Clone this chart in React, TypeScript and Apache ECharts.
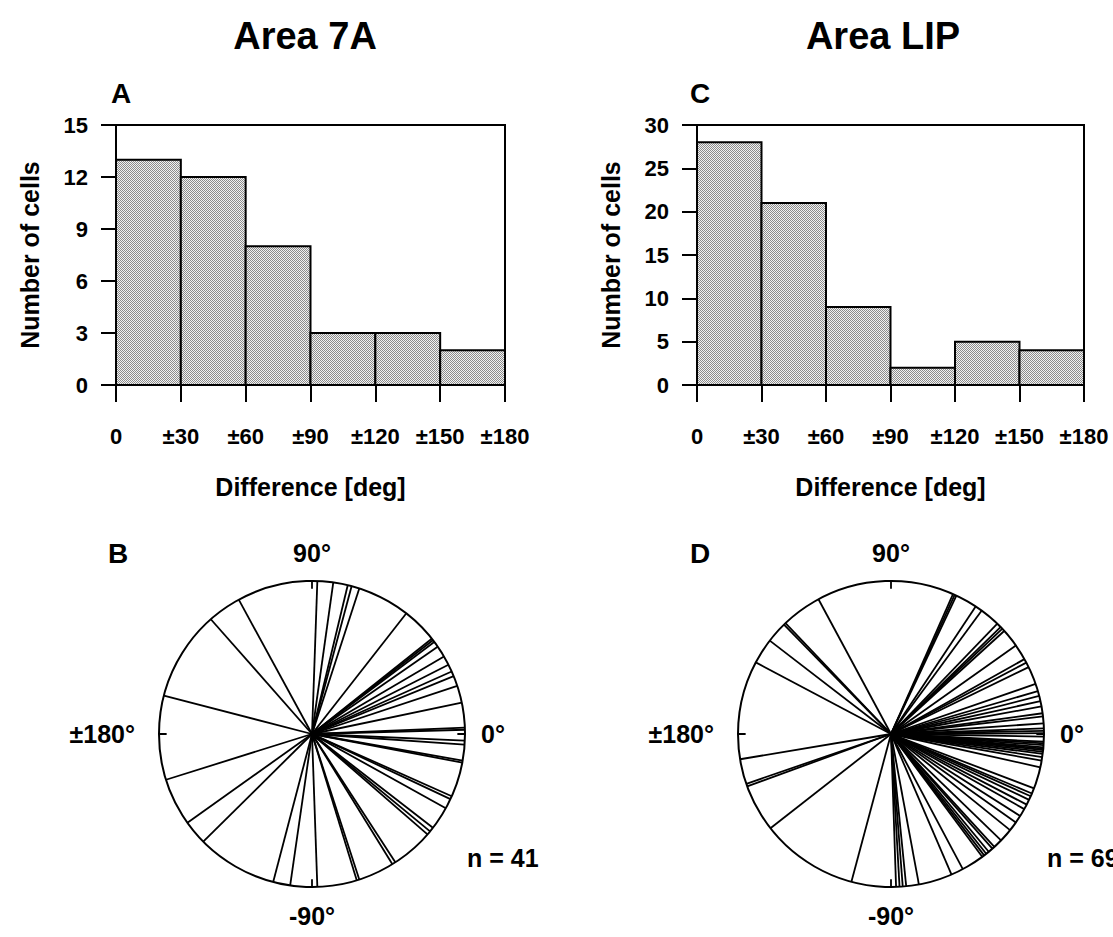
import React, { useEffect, useRef } from 'react';
import * as echarts from 'echarts';

// ---- data ----
const binEdges = [0, 30, 60, 90, 120, 150, 180];
const countsA = [13, 12, 8, 3, 3, 2];
const countsC = [28, 21, 9, 2, 5, 4];
const yMaxA = 15;
const yStepA = 3;
const yMaxC = 30;
const yStepC = 5;
const cardinalAngles = [-180, -90, 0, 90];

// preferred-direction differences (deg) for polar plots
const anglesB = [
  88, 82, 76.5, 75, 72, 52, 38.5, 37.8, 37, 34.8, 30.4, 26.9, 24.1, 22.2, 18.3, 11.8, 2.4, 1.6,
  -2.5, -4, -10, -10.8, -24, -25.2, -29, -37.8, -39.5, -41, -57, -58.3, -72, -73, -88,
  118.6, 131.4, 165.5,
  -162.6, -144.5, -135.3, -104.7, -98.2,
];
const anglesD = [
  66.1, 65.4, 64.7, 56.4, 53.7, 46.1, 44.3, 43.4, 42.3, 35.3, 29.3, 27.8, 25.9, 19.1, 16.3, 14.4,
  12.4, 10.4, 7.8, 6.6, 4.0, 2.1, 1.2,
  0.3, -1.0, -2.9, -3.5, -4.2, -5.0, -5.5, -6.0, -6.7, -7.5, -8.7, -10, -12.6,
  -20.8, -22.9, -24, -25.5, -27.5, -29.4, -32.4, -35.3, -38.9, -44, -47.5, -48.5, -50.3, -51.5,
  -52.5, -53.4, -62, -66.7, -79.5, -84.3, -85.6, -86.8, -88.1,
  118.3, 133.6, 134.4, 142.4, 152.1,
  -170.5, -161, -160, -142, -105,
];

const FONT = '"Liberation Sans", Arial, Helvetica, sans-serif';

function histData(counts: number[]) {
  return counts.map((c, i) => [binEdges[i], binEdges[i + 1], c]);
}

function tickLabel(v: number) {
  return v === 0 ? '0' : '\u00b1' + v;
}

function angleLabel(v: number) {
  if (v === 0) return '0\u00b0';
  if (v === 90) return '90\u00b0';
  if (v === -90) return '-90\u00b0';
  if (v === -180) return '{l|\u00b1180\u00b0}';
  return '';
}

function makeStipple(): any {
  try {
    const c = document.createElement('canvas');
    c.width = 2;
    c.height = 2;
    const ctx = c.getContext('2d');
    if (!ctx) return '#c2c2c2';
    ctx.fillStyle = '#f2f2f2';
    ctx.fillRect(0, 0, 2, 2);
    ctx.fillStyle = '#8c8c8c';
    ctx.fillRect(0, 0, 1, 1);
    ctx.fillRect(1, 1, 1, 1);
    return { image: c.toDataURL(), repeat: 'repeat' };
  } catch (e) {
    return '#c2c2c2';
  }
}

export default function App() {
  const ref = useRef<HTMLDivElement>(null);
  useEffect(() => {
    if (!ref.current) return;
    const chart = echarts.init(ref.current, undefined, { renderer: 'svg' });
    const stipple = makeStipple();

    const renderBar = (params: any, api: any) => {
      const p0 = api.coord([api.value(0), api.value(2)]);
      const p1 = api.coord([api.value(1), 0]);
      return {
        type: 'rect',
        shape: { x: p0[0], y: p0[1], width: p1[0] - p0[0], height: p1[1] - p0[1] },
        style: { fill: stipple, stroke: '#000', lineWidth: 2 },
      };
    };

    const labelStyle = { color: '#000', fontFamily: FONT, fontWeight: 'bold' as const };

    const xAxisCommon = (gridIndex: number) => ({
      type: 'value',
      gridIndex,
      min: 0,
      max: 180,
      interval: 30,
      name: 'Difference [deg]',
      nameLocation: 'middle',
      nameGap: 89,
      nameTextStyle: { ...labelStyle, fontSize: 25 },
      axisLine: { show: true, lineStyle: { color: '#000', width: 2 } },
      axisTick: { show: true, length: 17, lineStyle: { color: '#000', width: 2 } },
      axisLabel: { ...labelStyle, fontSize: 22, margin: 40, formatter: tickLabel },
      splitLine: { show: false },
    });
    const yAxisCommon = (gridIndex: number, max: number, interval: number) => ({
      type: 'value',
      gridIndex,
      min: 0,
      max,
      interval,
      name: 'Number of cells',
      nameLocation: 'middle',
      nameGap: 74,
      nameTextStyle: { ...labelStyle, fontSize: 25 },
      axisLine: { show: true, lineStyle: { color: '#000', width: 2 } },
      axisTick: { show: true, length: 15, lineStyle: { color: '#000', width: 2 } },
      axisLabel: { ...labelStyle, fontSize: 22, margin: 28 },
      splitLine: { show: false },
    });

    const angleAxisCommon = (polarIndex: number) => ({
      polarIndex,
      type: 'value',
      min: -180,
      max: 180,
      interval: 90,
      startAngle: 180,
      clockwise: false,
      axisLine: { show: true, lineStyle: { color: '#000', width: 2 } },
      axisTick: { show: false },
      axisLabel: {
        ...labelStyle,
        fontSize: 25,
        margin: 16,
        formatter: angleLabel,
        rich: { l: { ...labelStyle, fontSize: 25, padding: [0, 8, 0, 0] } },
      },
      splitLine: { show: false },
    });
    const radiusAxisCommon = (polarIndex: number) => ({
      polarIndex,
      type: 'value',
      min: 0,
      max: 1,
      axisLine: { show: false },
      axisTick: { show: false },
      axisLabel: { show: false },
      splitLine: { show: false },
    });

    const spokes = (angles: number[], polarIndex: number) =>
      angles.map((a) => ({
        type: 'line',
        coordinateSystem: 'polar',
        polarIndex,
        data: [
          [0, a],
          [1, a],
        ],
        symbol: 'none',
        silent: true,
        lineStyle: { color: '#000', width: 1.8 },
      }));
    const ticks = (polarIndex: number) =>
      cardinalAngles.map((a) => ({
        type: 'line',
        coordinateSystem: 'polar',
        polarIndex,
        clip: false,
        data: [
          [0.95, a],
          [1.05, a],
        ],
        symbol: 'none',
        silent: true,
        lineStyle: { color: '#000', width: 1.8 },
      }));

    const textEl = (text: string, x: number, y: number, size: number, align = 'left') => ({
      type: 'text',
      x,
      y,
      style: {
        text,
        fill: '#000',
        font: `bold ${size}px ${FONT}`,
        textAlign: align,
        textVerticalAlign: 'middle',
      },
    });

    chart.setOption({
      animation: false,
      backgroundColor: '#fff',
      grid: [
        { left: 116, top: 125, width: 389, height: 260, show: true, borderColor: '#000', borderWidth: 2, backgroundColor: 'transparent' },
        { left: 697, top: 125, width: 387, height: 260, show: true, borderColor: '#000', borderWidth: 2, backgroundColor: 'transparent' },
      ],
      xAxis: [xAxisCommon(0), xAxisCommon(1)],
      yAxis: [yAxisCommon(0, yMaxA, yStepA), yAxisCommon(1, yMaxC, yStepC)],
      polar: [
        { center: [312, 734], radius: 153 },
        { center: [891, 734], radius: 153 },
      ],
      angleAxis: [angleAxisCommon(0), angleAxisCommon(1)],
      radiusAxis: [radiusAxisCommon(0), radiusAxisCommon(1)],
      series: [
        {
          type: 'custom',
          xAxisIndex: 0,
          yAxisIndex: 0,
          data: histData(countsA),
          encode: { x: [0, 1], y: 2 },
          renderItem: renderBar,
        },
        {
          type: 'custom',
          xAxisIndex: 1,
          yAxisIndex: 1,
          data: histData(countsC),
          encode: { x: [0, 1], y: 2 },
          renderItem: renderBar,
        },
        ...spokes(anglesB, 0),
        ...spokes(anglesD, 1),
        ...ticks(0),
        ...ticks(1),
      ],
      graphic: [
        textEl('Area 7A', 305, 36, 38, 'center'),
        textEl('Area LIP', 883, 36, 38, 'center'),
        textEl('A', 111, 93, 28),
        textEl('C', 690, 93, 28),
        textEl('B', 108, 553, 28),
        textEl('D', 690, 553, 28),
        textEl('n = ' + anglesB.length, 467, 858, 25),
        textEl('n = ' + anglesD.length, 1047, 858, 25),
      ],
    });
    return () => chart.dispose();
  }, []);

  return (
    <div
      ref={ref}
      style={{ position: 'fixed', left: 0, top: 0, width: 1113, height: 937, background: '#fff' }}
    />
  );
}
